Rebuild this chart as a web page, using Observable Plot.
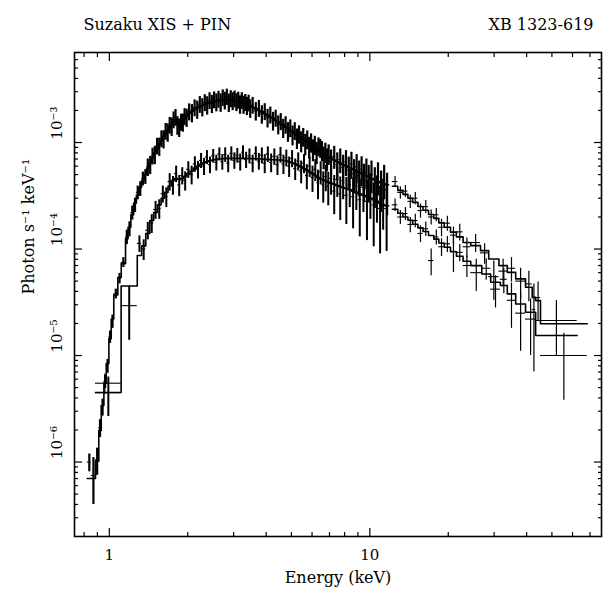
<!DOCTYPE html>
<html><head><meta charset="utf-8">
<script src="https://cdn.jsdelivr.net/npm/d3@7"></script>
<script src="https://cdn.jsdelivr.net/npm/@observablehq/plot@0.6"></script>
<style>body{margin:0;background:#fff;}</style>
</head><body><div id="chart"></div>
<script>
// All flux values below are in units of 1e-4 photons s^-1 keV^-1
const UNIT = 1e-4;

// ---- XIS, upper spectrum ----
const aEdges = [0.823,0.853,0.885,0.911,0.931,0.953,0.973,0.996,1.017,1.040,1.078,1.111,1.154,
1.18,1.21,1.24,1.27,1.30,1.33,1.36,1.39,1.42,1.45,1.48,1.51,1.54,1.57,1.60,1.63,1.66,1.69,1.72,1.75,1.78,1.81,1.84,1.87,1.90,1.93,1.96,2.00,
2.05,2.10,2.15,2.20,2.25,2.30,2.35,2.40,2.45,2.50,2.55,2.60,2.65,2.70,2.75,2.80,2.85,2.90,2.95,3.00,3.05,3.10,3.15,3.20,3.25,3.30,3.35,3.40,3.45,3.50,
3.6,3.7,3.8,3.9,4.0,4.1,4.2,4.3,4.4,4.5,4.6,4.7,4.8,4.9,5.0,5.1,5.2,5.3,5.4,5.5,5.6,5.7,5.8,5.9,6.0,6.1,6.2,6.3,6.4,6.5,6.6,6.7,6.8,6.9,7.0,
7.2,7.4,7.6,7.8,8.0,8.2,8.4,8.6,8.8,9.0,9.2,9.4,9.6,9.8,10.0,
10.3,10.6,10.9,11.2,11.5,11.8];
const aModel = [0.007,0.007,0.0102,0.0198,0.034,0.055,0.084,0.144,0.22,0.37,
0.54,0.73,1.25,1.6,2.1,2.7,3.2,3.8,4.4,5.0,
5.7,6.4,7.2,8.0,8.8,9.6,10.4,11.3,12.1,13.0,
13.9,14.8,15.7,16.5,15.2,14.4,15.1,16.0,16.9,17.8,
18.8,19.7,20.5,21.2,21.8,22.4,22.9,23.3,23.7,24.0,
24.3,24.6,24.8,25.0,25.1,25.2,25.2,25.2,25.1,25.0,
24.8,24.6,24.3,24.0,23.7,23.4,23.1,22.8,22.4,22.0,
21.4,20.7,20.0,19.3,18.6,17.9,17.3,16.7,16.1,15.5,
14.9,14.4,13.9,13.4,12.9,12.5,12.1,11.7,11.3,10.9,
10.6,10.3,10.0,9.7,9.4,9.15,8.9,8.65,8.4,8.2,
8.0,7.8,7.6,7.45,7.3,7.1,6.85,6.6,6.4,6.2,
6.0,5.85,5.7,5.55,5.4,5.25,5.1,4.95,4.85,4.75,
4.6,4.45,4.3,4.2,4.1,4.0];
const aData = [0.010,0.0075,0.0105,0.021,0.033,0.057,0.080,0.15,0.21,0.38,
0.53,0.75,1.30,1.55,2.2,2.6,3.4,3.7,4.6,4.8,
5.9,6.2,7.5,7.7,9.3,9.2,10.9,10.8,12.8,12.5,
14.6,14.2,16.4,17.3,14.6,13.9,15.6,15.5,17.6,17.2,
19.5,19.0,21.3,20.5,22.9,21.6,23.8,22.5,24.9,23.2,
25.3,24.0,25.6,23.9,26.5,24.9,27.0,23.8,25.9,24.6,
25.8,24.1,25.1,22.9,24.9,22.8,23.9,22.2,23.6,21.0,
22.5,19.8,21.0,18.5,19.6,17.1,18.2,16.0,17.0,14.8,
15.8,13.7,14.7,12.7,13.7,11.8,12.9,11.0,12.0,10.3,
11.3,9.7,10.7,9.1,10.0,8.6,9.5,8.1,9.2,8.9,
8.4,7.3,8.1,7.0,7.8,6.7,7.4,6.2,6.9,5.8,
6.6,5.5,6.3,5.1,5.9,4.9,5.6,4.5,5.3,4.4,
5.0,4.1,4.8,3.8,4.5,3.6];
const aErr = [0.0019,0.0035,0.003,0.004,0.006,0.008,0.012,0.02,0.03,0.04,
0.06,0.08,0.2,0.25,0.33,0.4,0.5,0.58,0.68,0.76,
1.1,1.2,1.35,1.5,1.65,1.8,1.95,2.1,2.3,2.45,
2.6,2.8,2.95,3.1,2.9,2.75,2.85,3.0,3.2,3.35,
3.55,3.7,3.85,4.0,4.1,4.2,4.3,4.4,4.45,4.5,
4.55,4.6,4.65,4.7,4.7,4.7,4.7,4.7,4.7,4.7,
4.65,4.6,4.55,4.5,4.45,4.4,4.35,4.3,4.2,4.15,
4.05,3.9,3.8,3.65,3.55,3.4,3.3,3.2,3.1,3.0,
2.9,2.8,2.75,2.65,2.6,2.5,2.45,2.4,2.35,2.3,
2.25,2.2,2.15,2.1,2.05,2.0,1.95,1.9,1.85,1.8,
1.8,1.75,1.75,1.7,1.7,1.8,1.8,1.8,1.8,1.8,
1.8,1.8,1.8,1.8,1.8,1.8,1.75,1.75,1.7,1.7,
1.7,1.7,1.65,1.6,1.6,1.55];

// ---- XIS, lower spectrum ----
const bEdges = [0.885,1.11,1.28,1.33,1.38,1.43,1.48,1.53,1.58,1.63,1.68,1.73,1.78,1.83,1.88,1.93,1.98,
2.04,2.10,2.16,2.22,2.28,2.34,2.40,2.47,2.54,2.61,2.68,2.75,2.82,2.90,2.98,3.06,3.14,3.22,3.30,
3.40,3.50,3.60,3.70,3.80,3.90,4.00,4.12,4.24,4.36,4.48,4.60,4.72,4.84,4.96,5.10,5.24,5.38,5.52,5.66,5.80,
5.95,6.10,6.25,6.40,6.55,6.70,6.85,7.00,7.20,7.40,7.60,7.80,8.00,8.25,8.50,8.75,9.00,9.30,9.60,9.90,
10.2,10.5,10.8,11.1,11.4,11.8];
const bModel = [0.045,0.45,0.87,1.07,1.40,1.85,2.2,2.6,3.0,3.4,
3.9,4.4,4.6,4.5,4.6,4.8,5.1,5.4,5.75,6.0,
6.25,6.45,6.6,6.75,6.85,6.95,7.0,7.05,7.1,7.1,
7.1,7.1,7.1,7.1,7.1,7.1,7.1,7.05,7.05,7.0,
7.0,6.95,6.95,6.9,6.9,6.85,6.85,6.8,6.7,6.6,
6.45,6.3,6.1,5.9,5.7,5.5,5.3,5.1,4.9,4.7,
4.55,4.45,4.35,4.25,4.15,4.05,3.95,3.85,3.78,3.7,
3.6,3.5,3.4,3.3,3.2,3.1,3.0,2.9,2.8,2.7,
2.62,2.55];
const bData = [0.0448,0.294,1.13,1.0,1.5,1.75,2.35,2.4,3.3,3.1,
4.3,4.0,5.1,4.0,4.9,4.4,5.6,5.0,6.3,5.6,
6.8,6.0,7.3,6.2,7.5,6.5,7.8,6.6,7.7,6.4,
7.9,6.8,7.6,6.6,8.1,6.9,7.5,6.4,7.9,6.7,
7.6,6.4,7.8,6.5,7.4,6.2,7.7,6.3,7.2,6.0,
7.1,5.7,6.7,5.4,6.4,4.9,6.0,4.7,5.6,4.2,
5.3,4.0,4.8,3.9,4.6,3.5,4.5,3.3,4.4,3.2,
4.0,3.1,3.9,2.9,3.8,2.8,3.5,2.6,3.3,2.4,
3.0,2.4];
const bErr = [0.018,0.155,0.2,0.22,0.28,0.35,0.45,0.5,0.6,0.65,
0.8,0.8,0.9,0.9,0.9,0.9,1.0,1.0,1.05,1.05,
1.1,1.1,1.1,1.1,1.1,1.1,1.1,1.1,1.2,1.2,
1.2,1.2,1.2,1.2,1.2,1.2,1.2,1.2,1.2,1.2,
1.3,1.3,1.3,1.3,1.3,1.3,1.3,1.3,1.3,1.3,
1.3,1.3,1.3,1.3,1.3,1.3,1.3,1.3,1.3,1.3,
1.3,1.3,1.35,1.35,1.4,1.4,1.45,1.45,1.5,1.5,
1.55,1.55,1.6,1.6,1.6,1.6,1.6,1.55,1.55,1.5,
1.5,1.45];
// one more wide low-energy bin of the lower spectrum
const bExtraLo = [0.885], bExtraHi = [1.11], bExtraE = [0.961], bExtraData = [0.055], bExtraErr = [0.012];

// ---- PIN, upper ----
const cEdges = [12.2,12.8,13.4,14.0,14.6,15.3,16.0,16.8,17.6,18.4,19.3,20.4,21.5,22.8,24.4,26.6,28.6,31.3,33.7,36.3,39.6,42.0,43.3,45.2,68.3];
const cModel = [3.89,3.55,3.26,3.00,2.74,2.51,2.31,2.11,1.94,1.76,1.60,1.44,1.30,1.15,1.076,0.966,0.807,0.699,0.604,0.524,0.437,0.352,0.328,0.199];
const cData = [4.3,3.4,3.5,2.8,3.0,2.3,2.5,2.0,2.1,1.6,1.75,1.35,1.45,1.05,1.15,0.92,0.55,0.62,0.66,0.50,0.47,0.27,0.35,0.10];
const cErr = [0.5,0.45,0.45,0.4,0.4,0.35,0.35,0.32,0.3,0.3,0.28,0.26,0.26,0.22,0.22,0.2,0.22,0.18,0.17,0.16,0.15,0.2,0.14,0.062];

// ---- PIN, lower ----
const dEdges = [12.2,12.8,13.4,14.0,14.6,15.3,16.0,16.8,17.6,18.4,19.3,20.4,21.5,22.8,24.4,26.9,29.1,31.7,33.7,36.3,39.6,43.3,62.5];
const dModel = [2.36,2.17,2.00,1.86,1.71,1.58,1.46,1.34,1.24,1.14,1.04,0.944,0.856,0.769,0.699,0.583,0.487,0.454,0.379,0.305,0.255,0.154];
const dData = [2.6,2.0,2.15,1.7,1.85,1.4,1.55,0.78,1.3,1.05,1.12,0.95,0.93,0.70,0.60,0.66,0.42,0.52,0.33,0.25,0.22,0.213];
const dErr = [0.35,0.3,0.3,0.28,0.27,0.25,0.24,0.22,0.21,0.2,0.19,0.35,0.17,0.16,0.2,0.15,0.14,0.14,0.15,0.14,0.12,0.115];

// ---- axes ----
const xDomain = [0.735, 77.5];
const yDomain = [2.0e-7, 7.0e-3];
const xMajor = [1, 10];
const xMajorLabels = ["1", "10"];
const xMinor = [0.8, 0.9, 2, 3, 4, 5, 6, 7, 8, 9, 20, 30, 40, 50, 60, 70];
const yMajor = [1e-6, 1e-5, 1e-4, 1e-3];
const yMajorLabels = ["10\u207B\u2076", "10\u207B\u2075", "10\u207B\u2074", "10\u207B\u00B3"];
const yMinor = [3e-7,4e-7,5e-7,6e-7,7e-7,8e-7,9e-7,
  2e-6,3e-6,4e-6,5e-6,6e-6,7e-6,8e-6,9e-6,
  2e-5,3e-5,4e-5,5e-5,6e-5,7e-5,8e-5,9e-5,
  2e-4,3e-4,4e-4,5e-4,6e-4,7e-4,8e-4,9e-4,
  2e-3,3e-3,4e-3,5e-3,6e-3];
const titleLeft = "Suzaku XIS + PIN";
const titleRight = "XB 1323-619";
const xLabel = "Energy (keV)";
const yLabel = "Photon s\u207B\u00B9 keV\u207B\u00B9";

function bins(edges, data, err, model) {
  const n = Math.min(edges.length - 1, data.length, err.length, model.length);
  const rows = [];
  for (let i = 0; i < n; i++) {
    const lo = edges[i], hi = edges[i + 1];
    const v = data[i] * UNIT, e = err[i] * UNIT;
    rows.push({lo, hi, c: Math.sqrt(lo * hi), v, vlo: Math.max(v - e, 1e-9), vhi: v + e, m: model[i] * UNIT});
  }
  return rows;
}
const steps = rows => rows.flatMap(r => [{x: r.lo, y: r.m}, {x: r.hi, y: r.m}]);

const sets = [
  bins(aEdges, aData, aErr, aModel),
  bins(bEdges, bData, bErr, bModel),
  bins(cEdges, cData, cErr, cModel),
  bins(dEdges, dData, dErr, dModel)
];
const extra = bExtraLo.map((lo, i) => {
  const v = bExtraData[i] * UNIT, e = bExtraErr[i] * UNIT;
  return {lo, hi: bExtraHi[i], c: bExtraE[i], v, vlo: v - e, vhi: v + e};
});

const dataMarks = [];
// vertical bar widths: XIS bins are dense and look like a solid band
const vWidth = [2.2, 2.0, 1.2, 1.2, 1.2];
[...sets, extra].forEach((rows, k) => {
  dataMarks.push(Plot.ruleY(rows, {y: "v", x1: "lo", x2: "hi", stroke: "black", strokeWidth: 1.1, clip: true}));
  dataMarks.push(Plot.ruleX(rows, {x: "c", y1: "vlo", y2: "vhi", stroke: "black", strokeWidth: vWidth[k], clip: true}));
});
for (const rows of sets) {
  dataMarks.push(Plot.line(steps(rows), {x: "x", y: "y", stroke: "black", strokeWidth: 1.6, clip: true}));
}

const noText = () => "";
const axisMarks = [];
for (const anchor of ["bottom", "top"]) {
  axisMarks.push(Plot.axisX({anchor, ticks: xMajor, tickSize: -8, tickFormat: noText, label: null, strokeWidth: 1.2}));
  axisMarks.push(Plot.axisX({anchor, ticks: xMinor, tickSize: -4, tickFormat: noText, label: null, strokeWidth: 1.2}));
}
for (const anchor of ["left", "right"]) {
  axisMarks.push(Plot.axisY({anchor, ticks: yMajor, tickSize: -8, tickFormat: noText, label: null, strokeWidth: 1.2}));
  axisMarks.push(Plot.axisY({anchor, ticks: yMinor, tickSize: -4, tickFormat: noText, label: null, strokeWidth: 1.2}));
}

const chart = Plot.plot({
  width: 613,
  height: 597,
  marginLeft: 74,
  marginRight: 12,
  marginTop: 52,
  marginBottom: 61,
  style: {fontFamily: "'DejaVu Serif', serif", fontSize: "15px", color: "black", background: "white"},
  x: {type: "log", domain: xDomain},
  y: {type: "log", domain: yDomain},
  marks: [
    ...dataMarks,
    ...axisMarks,
    Plot.frame({stroke: "black", strokeWidth: 1.6}),
    Plot.text(xMajor, {x: d => d, text: (d, i) => xMajorLabels[i], frameAnchor: "bottom", dy: 23, fontSize: 15}),
    Plot.text(yMajor, {y: d => d, text: (d, i) => yMajorLabels[i], frameAnchor: "left", dx: -17, dy: -3, rotate: -90, fontSize: 15}),
    Plot.text([titleLeft], {text: d => d, frameAnchor: "top-left", dx: 9, dy: -34, textAnchor: "start", fontSize: 16}),
    Plot.text([titleRight], {text: d => d, frameAnchor: "top-right", dx: -8, dy: -34, textAnchor: "end", fontSize: 16}),
    Plot.text([xLabel], {text: d => d, frameAnchor: "bottom", dy: 46, fontSize: 16}),
    Plot.text([yLabel], {text: d => d, frameAnchor: "left", dx: -46, rotate: -90, fontSize: 16})
  ]
});
document.getElementById("chart").appendChild(chart);
</script>
</body></html>
